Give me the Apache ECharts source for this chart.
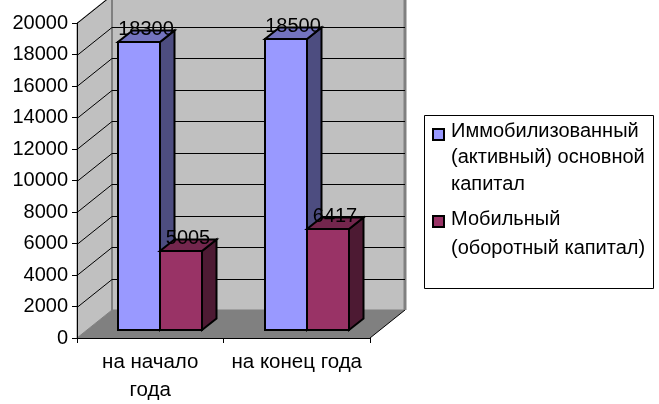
<!DOCTYPE html>
<html>
<head>
	<meta charset="utf-8" />
	<title>Капитал</title>
	<script src="https://cdn.jsdelivr.net/npm/echarts@6/dist/echarts.min.js"></script>
	<style>
		html,body {margin:0;padding:0;background:#fff;}
	</style>
</head>
<body>
	<div id="main" style="width: 659px;height: 404px;"></div>

	<script type="text/javascript">
		var categories = ['на начало\nгода','на конец года'];
		var immobile = [18300,18500];
		var mobile = [5005,6417];
		var seriesNames = ['Иммобилизованный\n(активный) основной\nкапитал','Мобильный\n(оборотный капитал)'];
		var gridTicks = [2000,4000,6000,8000,10000,12000,14000,16000,18000,20000];

		var FONT = '"Liberation Sans", Arial, sans-serif';
		// depth of the fake 3d box in pixels
		var DX = 35, DY = 28;
		var BAR_DX = 14.5, BAR_DY = 11.5;
		var BAR_SHIFT_X = 10, BAR_SHIFT_Y = 8;
		var BAR_W = 42;

		function wallsItem(params, api) {
			var cs = params.coordSys;
			var x0 = cs.x, x1 = cs.x + cs.width, yb = cs.y + cs.height, yt = cs.y;
			var wall = {fill:'#c0c0c0', stroke:'#808080', lineWidth:1};
			return {type:'group', children:[
				{type:'polygon', shape:{points:[[x0,yb],[x0+DX,yb-DY],[x0+DX,yt-DY],[x0,yt]]}, style:wall},
				{type:'polygon', shape:{points:[[x0+DX,yb-DY],[x1+DX,yb-DY],[x1+DX,yt-DY],[x0+DX,yt-DY]]}, style:wall},
				{type:'polygon', shape:{points:[[x0,yb],[x1,yb],[x1+DX,yb-DY],[x0+DX,yb-DY]]}, style:{fill:'#808080'}},
				{type:'line', shape:{x1:x1,y1:yb,x2:x1+DX,y2:yb-DY}, style:{stroke:'#000',lineWidth:1}},
				{type:'line', shape:{x1:x0+DX,y1:yb-DY,x2:x0+DX,y2:yt-DY}, style:{stroke:'#808080',lineWidth:2}},
				{type:'line', shape:{x1:x1+DX,y1:yb-DY,x2:x1+DX,y2:yt-DY}, style:{stroke:'#808080',lineWidth:3}}
			]};
		}

		function gridItem(params, api) {
			var cs = params.coordSys;
			var y = Math.round(api.coord([0,api.value(1)])[1]) + 0.5;
			return {type:'polyline',
				shape:{points:[[cs.x,y],[cs.x+DX,y-DY],[cs.x+cs.width+DX,y-DY]]},
				style:{fill:null,stroke:'#000',lineWidth:1}};
		}

		function barItem(index, front, side, top) {
			return function(params, api) {
				var val = api.value(1);
				var c = api.coord([api.value(0),val]);
				var b = api.coord([api.value(0),0]);
				var xl = Math.round(c[0] + BAR_SHIFT_X + (index-1)*BAR_W);
				var xr = xl + BAR_W;
				var yt = Math.round(c[1] - BAR_SHIFT_Y);
				var yb = Math.round(b[1] - BAR_SHIFT_Y);
				var line = {stroke:'#000',lineWidth:2,lineJoin:'miter'};
				return {type:'group', children:[
					{type:'polygon', shape:{points:[[xr,yb],[xr+BAR_DX,yb-BAR_DY],[xr+BAR_DX,yt-BAR_DY],[xr,yt]]},
						style:Object.assign({fill:side},line)},
					{type:'polygon', shape:{points:[[xl,yt],[xr,yt],[xr+BAR_DX,yt-BAR_DY],[xl+BAR_DX,yt-BAR_DY]]},
						style:Object.assign({fill:top},line)},
					{type:'rect', shape:{x:xl,y:yt,width:BAR_W,height:yb-yt},
						style:Object.assign({fill:front},line)},
					{type:'text', x:xl+BAR_W/2+7, y:yt-13, style:{text:String(val),fill:'#000',
						font:'20px '+FONT,textAlign:'center',textVerticalAlign:'middle'}}
				]};
			};
		}

		function toPairs(arr) {
			return arr.map(function(v,i){return [i,v];});
		}

		function legendGraphic() {
			var colors = ['#9999ff','#993366'];
			var markerY = [129,216];
			var textY = [118,205];
			var lineH = [26.5,29];
			var items = [{type:'rect',shape:{x:424.5,y:115.5,width:229,height:173},style:{fill:'#fff',stroke:'#000',lineWidth:1}}];
			for(var i=0;i<seriesNames.length;i++) {
				items.push({type:'rect',shape:{x:433,y:markerY[i],width:11,height:11},
					style:{fill:colors[i],stroke:'#000',lineWidth:2}});
				items.push({type:'text',x:451,y:textY[i],style:{text:seriesNames[i],fill:'#000',
					font:'20px '+FONT,lineHeight:lineH[i]}});
			}
			return items;
		}

		var myChart = echarts.init(document.getElementById("main"));

		var option = {
			animation: false,
			backgroundColor: '#fff',
			grid: {left:77,right:289,top:23,bottom:65},
			xAxis: {
				type:'category',
				data:categories,
				z:1,
				axisLine:{lineStyle:{color:'#000',width:1}},
				axisTick:{show:true,alignWithLabel:false,length:5,lineStyle:{color:'#000'}},
				axisLabel:{color:'#000',fontFamily:'"Liberation Sans", Arial, sans-serif',fontSize:20.5,lineHeight:28,margin:10,interval:0}
			},
			yAxis: {
				type:'value',
				min:0,
				max:20000,
				interval:2000,
				z:1,
				axisLine:{show:true,lineStyle:{color:'#000',width:1}},
				axisTick:{show:true,length:5,lineStyle:{color:'#000'}},
				axisLabel:{color:'#000',fontFamily:'"Liberation Sans", Arial, sans-serif',fontSize:20,margin:9,
					formatter:function(v){return String(v);}},
				splitLine:{show:false}
			},
			series: [
				{type:'custom',name:'walls',z:0,clip:false,silent:true,renderItem:wallsItem,data:[[0,0]]},
				{type:'custom',name:'grid',z:0,clip:false,silent:true,renderItem:gridItem,data:toPairs(gridTicks).map(function(p){return [0,p[1]];})},
				{type:'custom',name:seriesNames[0],z:2,clip:false,renderItem:barItem(0,'#9999ff','#4d4d80','#7373bf'),data:toPairs(immobile)},
				{type:'custom',name:seriesNames[1],z:3,clip:false,renderItem:barItem(1,'#993366','#4d1a33','#73264d'),data:toPairs(mobile)}
			],
			graphic: legendGraphic()
		};

		myChart.setOption(option);
	</script>
</body>
</html>
